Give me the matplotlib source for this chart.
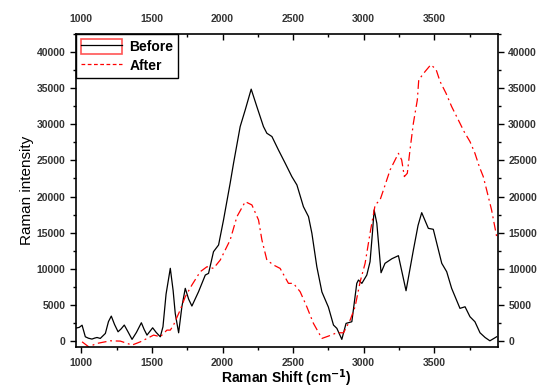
import matplotlib
matplotlib.use("Agg")
import matplotlib.pyplot as plt
from matplotlib.lines import Line2D
from matplotlib.patches import Rectangle
from matplotlib.ticker import MultipleLocator

plt.rcParams['font.family'] = ['Liberation Sans', 'DejaVu Sans']

# spectrum before treatment (black solid)
before_x = [962, 985, 1005, 1018, 1028, 1050, 1075, 1095, 1111, 1134, 1170, 1192, 1212, 1235,
            1260, 1282, 1304, 1330, 1359, 1390, 1425, 1445, 1465, 1505, 1530, 1559, 1578,
            1600, 1630, 1650, 1665, 1689, 1712, 1736, 1760, 1783, 1830, 1878,
            1901, 1936, 1972, 2007, 2054, 2078, 2125, 2161, 2203, 2243, 2290, 2314,
            2350, 2396, 2444, 2491, 2527, 2573, 2609, 2633, 2668, 2704, 2750, 2786,
            2810, 2845, 2875, 2916, 2951, 2963, 2987, 3022, 3045, 3062, 3074, 3093, 3123,
            3151, 3200, 3246, 3300, 3352, 3385, 3411, 3458, 3493, 3553, 3588, 3623, 3682, 3718,
            3753, 3788, 3824, 3860, 3894, 3942]
before_y = [1800, 1900, 2200, 1300, 600, 400, 280, 420, 500, 370, 1060, 2700, 3460, 2300,
            1290, 1700, 2220, 1300, 240, 1200, 2540, 1600, 830, 1840, 1200, 600, 1980,
            6500, 10070, 7000, 3830, 1150, 4750, 7300, 5800, 4850, 6830, 9140,
            9370, 12370, 13300, 16760, 21840, 24610, 29680, 32000, 34860, 32450, 29680, 28760,
            28300, 26450, 24610, 22760, 21600, 18600, 17220, 14920, 10290, 6800, 4700, 2220,
            1760, 240, 2450, 2680, 7990, 8450, 7990, 9140, 10980, 15000, 18140, 16300, 9460,
            10760, 11400, 11820, 6970, 12600, 16000, 17770, 15600, 15470, 10760, 9600, 7300, 4530, 4750,
            3370, 2680, 1150, 500, 40, 600]

# spectrum after treatment (red dash-dot)
after_x = [1005, 1052, 1111, 1205, 1276, 1359, 1418, 1512, 1559, 1606, 1630, 1653,
           1700, 1736, 1783, 1842, 1890, 1936, 1984, 2054, 2102, 2161, 2208, 2255,
           2279, 2314, 2361, 2408, 2467, 2502, 2550, 2597, 2644, 2704, 2750, 2810,
           2857, 2904, 2939, 2975, 3010, 3045, 3081, 3116, 3140, 3187, 3246, 3269,
           3288, 3309, 3328, 3352, 3380, 3390, 3435, 3475, 3512, 3541, 3583, 3623,
           3670, 3711, 3753, 3788, 3819, 3847, 3871, 3906, 3942]
after_y = [-100, -790, -320, 40, 0, -550, -100, 830, 600, 1520, 1520, 2220,
           4300, 6140, 7760, 9600, 10290, 10060, 11220, 13990, 17220, 19290, 18840, 16760,
           13990, 11220, 10530, 10060, 7990, 7990, 6830, 4750, 2450, 370, 690, 1150,
           1150, 2910, 4750, 8220, 10760, 14920, 18840, 19530, 20910, 23680, 25980, 25070,
           22760, 23220, 26450, 30150, 33380, 36150, 37300, 38230, 37630, 35920, 34300, 32450,
           30610, 28990, 27600, 25990, 24140, 22760, 20910, 18140, 14450]

fig = plt.figure(figsize=(5.37, 3.9), dpi=100)
ax = fig.add_axes([0.141, 0.110, 0.786, 0.803])

ax.plot(before_x, before_y, color='black', lw=0.9)
ax.plot(after_x, after_y, color='red', lw=0.9, linestyle=(0, (7, 3, 1.5, 3)))

ax.set_xlim(960, 3950)
ax.set_ylim(-830, 42500)
ax.xaxis.set_major_locator(MultipleLocator(500))
ax.xaxis.set_minor_locator(MultipleLocator(250))
ax.yaxis.set_major_locator(MultipleLocator(5000))
ax.yaxis.set_minor_locator(MultipleLocator(2500))

ax.tick_params(which='both', top=True, right=True, labeltop=True, labelright=True,
               direction='out', labelsize=7.5, labelcolor='#333333', width=1)
ax.tick_params(which='major', length=4)
ax.tick_params(which='minor', length=2.5)
for t in ax.xaxis.get_major_ticks() + ax.xaxis.get_minor_ticks():
    t.tick2line.set_marker(3)  # top ticks point inward
for t in ax.xaxis.get_major_ticks() + ax.yaxis.get_major_ticks():
    t.label1.set_fontweight('bold')
    t.label2.set_fontweight('bold')
for s in ax.spines.values():
    s.set_linewidth(1.2)

ax.set_xlabel('Raman Shift (cm$^{\\mathbf{-1}}$)', fontsize=10, fontweight='bold', labelpad=0)
ax.set_ylabel('Raman intensity', fontsize=11, labelpad=2)

before_handle = (Rectangle((0, 0), 1, 1, fill=False, edgecolor='#ff5555', lw=1.2),
                 Line2D([], [], color='black', lw=0.9))
after_handle = Line2D([], [], color='red', lw=0.9, linestyle=(0, (3, 2)))
leg = ax.legend([before_handle, after_handle], ['Before', 'After'], loc='upper left',
                borderaxespad=0, fancybox=False, framealpha=1, edgecolor='black',
                prop={'weight': 'bold', 'size': 10}, handlelength=3.0, handleheight=1.3,
                handletextpad=0.5, borderpad=0.35, labelspacing=0.25)
leg.get_frame().set_linewidth(1)

fig.savefig('out.png', dpi=100)
